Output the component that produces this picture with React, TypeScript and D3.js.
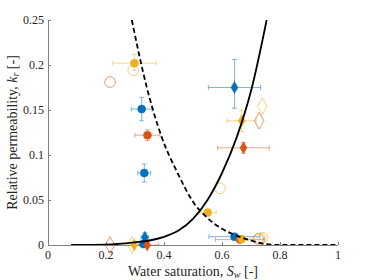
import * as d3 from "d3"

const blue = "#0072BD"
const orange = "#D95319"
const yellow = "#EDB120"

// model curves: [Sw, kr]
const krwCurve: [number, number][] = [
    [0.08, 0], [0.2, 0.0004], [0.3, 0.003], [0.35, 0.005], [0.4, 0.009], [0.45, 0.016],
    [0.5, 0.029], [0.55, 0.05], [0.6, 0.08], [0.65, 0.119], [0.7, 0.171], [0.754, 0.25],
]
const krnCurve: [number, number][] = [
    [0.289, 0.25], [0.34, 0.176], [0.392, 0.12], [0.45, 0.078], [0.5, 0.048], [0.55, 0.03],
    [0.6, 0.018], [0.65, 0.0105], [0.7, 0.005], [0.75, 0.001], [0.8, 0], [1, 0],
]

// measured points: [Sw, kr, dSw, dkr low, dkr high]
const blueFilledCircles = [[0.323, 0.151, 0.036, 0.013, 0.013], [0.332, 0.08, 0.022, 0.01, 0.01], [0.329, 0.001, 0.015, 0.002, 0.002], [0.643, 0.0093, 0.088, 0.002, 0.002]]
const blueFilledDiamonds = [[0.643, 0.175, 0.09, 0.023, 0.031], [0.334, 0.0085, 0.013, 0.005, 0.005]]
const orangeFilledCircles = [[0.343, 0.122, 0.043, 0.006, 0.006], [0.662, 0.006, 0.085, 0.002, 0.002]]
const orangeFilledDiamonds = [[0.674, 0.108, 0.089, 0.006, 0.006], [0.342, 0.0, 0.04, 0.002, 0.002]]
const yellowFilledCircles = [[0.298, 0.202, 0.075, 0.008, 0.01], [0.551, 0.036, 0.029, 0.003, 0.003], [0.668, 0.0067, 0.03, 0.002, 0.002]]
const yellowFilledDiamonds = [[0.668, 0.138, 0.05, 0.012, 0.012], [0.297, 0.0, 0.03, 0.001, 0.001]]
const orangeOpenCircles = [[0.214, 0.181], [0.725, 0.0067]]
const yellowOpenCircles = [[0.294, 0.194], [0.593, 0.063], [0.731, 0.0074], [0.74, 0.008]]
const orangeOpenDiamonds = [[0.728, 0.138], [0.214, 0.0]]
const yellowOpenDiamonds = [[0.739, 0.154], [0.29, 0.0]]

const xTicks = [0, 0.2, 0.4, 0.6, 0.8, 1]
const yTicks = [0, 0.05, 0.1, 0.15, 0.2, 0.25]

const width = 374
const height = 280
const margin = { top: 20, right: 36, bottom: 35, left: 48 }

const x = d3.scaleLinear().domain([0, 1]).range([margin.left, width - margin.right])
const y = d3.scaleLinear().domain([0, 0.25]).range([height - margin.bottom, margin.top])

const line = d3.line<[number, number]>()
    .x(d => x(d[0]))
    .y(d => y(d[1]))
    .curve(d3.curveMonotoneX)

const font = "'Liberation Serif', 'Times New Roman', serif"

function ErrorBars({ pts, color }: { pts: number[][], color: string }) {
    const cap = 2.5
    return <g stroke={color} strokeOpacity={0.5} strokeWidth={1}>
        {pts.map((p, i) => {
            const cx = x(p[0]), cy = y(p[1])
            const xl = x(p[0] - p[2]), xr = x(p[0] + p[2])
            const yl = y(p[1] - p[3]), yh = y(p[1] + p[4])
            return <g key={i}>
                <line x1={xl} x2={xr} y1={cy} y2={cy} />
                <line x1={xl} x2={xl} y1={cy - cap} y2={cy + cap} />
                <line x1={xr} x2={xr} y1={cy - cap} y2={cy + cap} />
                <line x1={cx} x2={cx} y1={yl} y2={yh} />
                <line x1={cx - cap} x2={cx + cap} y1={yl} y2={yl} />
                <line x1={cx - cap} x2={cx + cap} y1={yh} y2={yh} />
            </g>
        })}
    </g>
}

function Markers({ pts, color, shape, filled }: { pts: number[][], color: string, shape: "circle" | "diamond", filled: boolean }) {
    const r = filled ? 4 : 5.3
    const sym = d3.symbol().type(shape === "circle" ? d3.symbolCircle : d3.symbolDiamond)
        .size(shape === "circle" ? Math.PI * r * r : (filled ? 42 : 80))
    return <g fill={filled ? color : "none"} stroke={color} strokeOpacity={filled ? 1 : 0.6} strokeWidth={filled ? 0.5 : 1}>
        {pts.map((p, i) => <path key={i} d={sym() ?? ""} transform={`translate(${x(p[0])},${y(p[1])})`} />)}
    </g>
}

export default function App() {
    const axisColor = "#808080"
    const textColor = "#262626"
    return (
        <svg width={width} height={height} viewBox={`0 0 ${width} ${height}`}
            style={{ position: "absolute", left: 0, top: 0, fontFamily: font }}>
            <defs>
                <clipPath id="plot">
                    <rect x={margin.left} y={margin.top} width={x(1) - x(0)} height={y(0) - y(0.25)} />
                </clipPath>
            </defs>

            {/* axes */}
            <g stroke={axisColor} strokeWidth={1} fill="none">
                <line x1={x(0)} x2={x(1)} y1={y(0) + 0.5} y2={y(0) + 0.5} />
                <line x1={x(0) + 0.5} x2={x(0) + 0.5} y1={y(0)} y2={y(0.25)} />
                {xTicks.map(t => <line key={t} x1={x(t) + 0.5} x2={x(t) + 0.5} y1={y(0)} y2={y(0) - 3} />)}
                {yTicks.map(t => <line key={t} x1={x(0)} x2={x(0) + 3} y1={y(t) + 0.5} y2={y(t) + 0.5} />)}
            </g>
            <g fill={textColor} fontSize={12}>
                {xTicks.map(t => <text key={t} x={x(t)} y={y(0) + 14} textAnchor="middle">{d3.format("~g")(t)}</text>)}
                {yTicks.map(t => <text key={t} x={x(0) - 4} y={y(t) + 4} textAnchor="end">{d3.format("~g")(t)}</text>)}
            </g>
            <text x={(x(0) + x(1)) / 2} y={height - 4} textAnchor="middle" fontSize={14} fill={textColor}>
                Water saturation, <tspan fontStyle="italic">S</tspan><tspan fontStyle="italic" fontSize={10} dy={2}>w</tspan><tspan dy={-2}> [-]</tspan>
            </text>
            <text transform={`translate(17,${(y(0) + y(0.25)) / 2}) rotate(-90)`} textAnchor="middle" fontSize={14} fill={textColor}>
                Relative permeability, <tspan fontStyle="italic">k</tspan><tspan fontStyle="italic" fontSize={10} dy={2}>r</tspan><tspan dy={-2}> [-]</tspan>
            </text>

            <g clipPath="url(#plot)">
                <ErrorBars pts={blueFilledCircles} color={blue} />
                <ErrorBars pts={blueFilledDiamonds} color={blue} />
                <ErrorBars pts={orangeFilledCircles} color={orange} />
                <ErrorBars pts={orangeFilledDiamonds} color={orange} />
                <ErrorBars pts={yellowFilledCircles} color={yellow} />
                <ErrorBars pts={yellowFilledDiamonds} color={yellow} />
            </g>
            <Markers pts={orangeOpenCircles} color={orange} shape="circle" filled={false} />
            <Markers pts={yellowOpenCircles} color={yellow} shape="circle" filled={false} />
            <Markers pts={orangeOpenDiamonds} color={orange} shape="diamond" filled={false} />
            <Markers pts={yellowOpenDiamonds} color={yellow} shape="diamond" filled={false} />
            <Markers pts={blueFilledCircles} color={blue} shape="circle" filled />
            <Markers pts={blueFilledDiamonds} color={blue} shape="diamond" filled />
            <Markers pts={orangeFilledCircles} color={orange} shape="circle" filled />
            <Markers pts={orangeFilledDiamonds} color={orange} shape="diamond" filled />
            <Markers pts={yellowFilledCircles} color={yellow} shape="circle" filled />
            <Markers pts={yellowFilledDiamonds} color={yellow} shape="diamond" filled />

            <g clipPath="url(#plot)" fill="none" stroke="#000">
                <path d={line(krwCurve) ?? ""} strokeWidth={1.8} />
                <path d={line(krnCurve) ?? ""} strokeWidth={1.8} strokeDasharray="5,3" />
            </g>
        </svg>
    )
}
